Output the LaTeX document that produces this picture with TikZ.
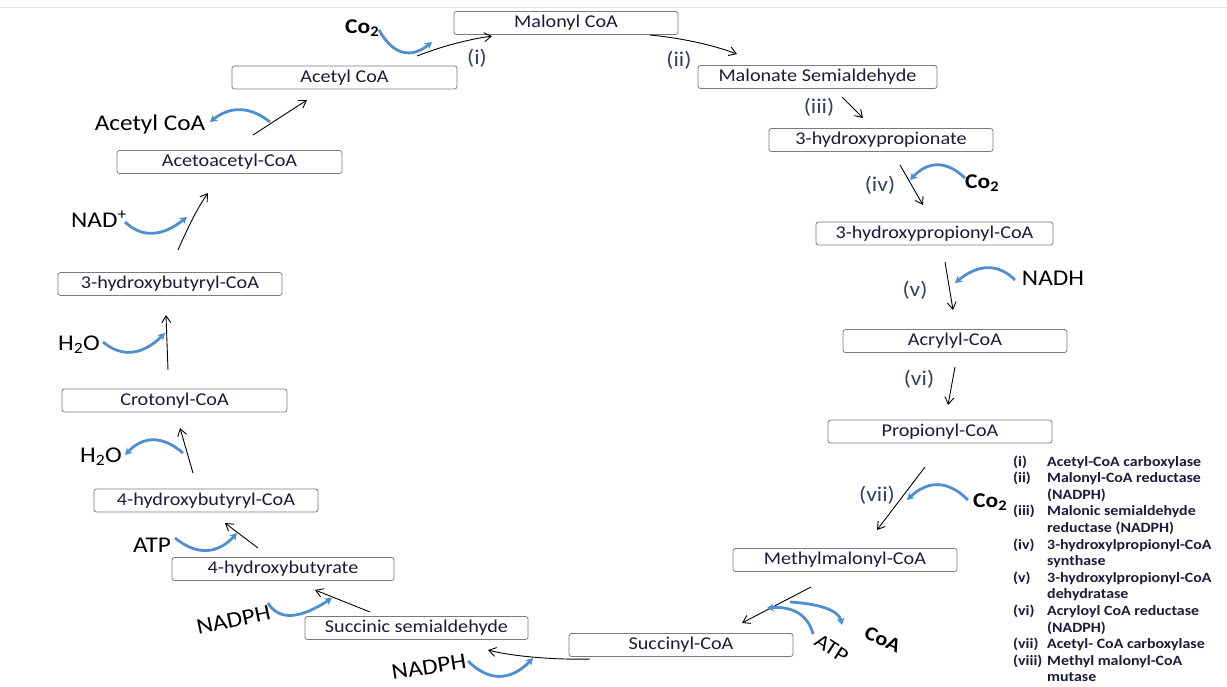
\documentclass[tikz,border=0pt]{standalone}
\usepackage{fontspec}
\setmainfont{Carlito}[FakeStretch=1.12]
\usetikzlibrary{arrows.meta}

\definecolor{ink}{HTML}{1B1B3A}
\definecolor{stepc}{HTML}{34405E}
\definecolor{arcblue}{HTML}{4F8FCF}
\definecolor{boxline}{HTML}{7A7A7A}

\tikzset{
  met/.style={draw=boxline, rounded corners=2.5pt, fill=white, minimum height=23pt,
    inner sep=0pt, text=ink, font=\fontsize{18}{20}\selectfont, line width=0.8pt},
  rxn/.style={draw=black, line width=0.9pt, -{Straight Barb[length=7pt,width=9pt]}},
  cof/.style={draw=arcblue, line width=2.8pt, -{Stealth[length=7pt,width=8pt]}},
  big/.style={font=\fontsize{22.5}{24}\selectfont, text=black, inner sep=0pt},
  stp/.style={font=\fontsize{21}{23}\selectfont, text=stepc, inner sep=0pt},
  cotwo/.style={font=\bfseries\fontsize{21}{23}\selectfont, text=black, inner sep=0pt},
  legend/.style={font=\bfseries\fontsize{14.2}{16}\selectfont, text=ink, inner sep=0pt},
}

\begin{document}
\begin{tikzpicture}[x=1pt,y=-1pt]
\useasboundingbox (0,0) rectangle (1227,686);
\fill[white] (0,0) rectangle (1227,686);
\draw[gray!25, line width=1pt] (0,7) -- (1227,7);

% metabolites of the cycle
\node[met, minimum width=224pt] (malonyl) at (566,23) {Malonyl CoA};
\node[met, minimum width=225pt] (acetyl)  at (344.5,77.5) {Acetyl CoA};
\node[met, minimum width=239pt] (malsemi) at (817.5,77) {Malonate Semialdehyde};
\node[met, minimum width=224pt] (hp)      at (881,140) {3-hydroxypropionate};
\node[met, minimum width=237pt] (hpcoa)   at (934.5,233.5) {3-hydroxypropionyl-CoA};
\node[met, minimum width=224pt] (acryl)   at (955,341) {Acrylyl-CoA};
\node[met, minimum width=224pt] (prop)    at (940,431.5) {Propionyl-CoA};
\node[met, minimum width=224pt] (mmcoa)   at (845,560) {Methylmalonyl-CoA};
\node[met, minimum width=224pt] (succ)    at (681,645) {Succinyl-CoA};
\node[met, minimum width=223pt] (ssa)     at (416.5,628) {Succinic semialdehyde};
\node[met, minimum width=222pt] (hb)      at (283,569) {4-hydroxybutyrate};
\node[met, minimum width=224pt] (hbcoa)   at (206,500.5) {4-hydroxybutyryl-CoA};
\node[met, minimum width=225pt] (crot)    at (174.5,400.5) {Crotonyl-CoA};
\node[met, minimum width=224pt] (hbucoa)  at (170,284) {3-hydroxybutyryl-CoA};
\node[met, minimum width=225pt] (aacoa)   at (229.5,162) {Acetoacetyl-CoA};

% end points of the reaction arrows
\coordinate (r1a) at (417,56);  \coordinate (r1b) at (492,36);
\coordinate (r2a) at (650,35);  \coordinate (r2b) at (737,54);
\coordinate (r3a) at (842,97);  \coordinate (r3b) at (863,118);
\coordinate (r4a) at (900,165); \coordinate (r4b) at (923,205);
\coordinate (r5a) at (945,262); \coordinate (r5b) at (953,310);
\coordinate (r6a) at (955,367); \coordinate (r6b) at (948,405);
\coordinate (r7a) at (925,467); \coordinate (r7b) at (877,530);
\coordinate (r8a) at (811,587); \coordinate (r8b) at (742,623);
\coordinate (r9a) at (590,659); \coordinate (r9b) at (488,650);
\coordinate (r10a) at (370,612); \coordinate (r10b) at (315,590);
\coordinate (r11a) at (258,548); \coordinate (r11b) at (225,523);
\coordinate (r12a) at (193,473); \coordinate (r12b) at (180,428);
\coordinate (r13a) at (168,370); \coordinate (r13b) at (166,315);
\coordinate (r14a) at (178,250); \coordinate (r14b) at (208,193);
\coordinate (r15a) at (253,135); \coordinate (r15b) at (307,100);

% reaction arrows
\draw[rxn] (r1a) .. controls (440,47) and (465,40) .. (r1b);
\draw[rxn] (r2a) .. controls (680,38) and (710,44) .. (r2b);
\draw[rxn] (r3a) -- (r3b);
\draw[rxn] (r4a) -- (r4b);
\draw[rxn] (r5a) -- (r5b);
\draw[rxn] (r6a) -- (r6b);
\draw[rxn] (r7a) -- (r7b);
\draw[rxn] (r8a) -- (r8b);
\draw[rxn] (r9a) .. controls (560,660) and (515,657) .. (r9b);
\draw[rxn] (r10a) -- (r10b);
\draw[rxn] (r11a) -- (r11b);
\draw[rxn] (r12a) -- (r12b);
\draw[rxn] (r13a) -- (r13b);
\draw[rxn] (r14a) .. controls (186,232) and (196,210) .. (r14b);
\draw[rxn] (r15a) -- (r15b);

% cofactors
\node[cotwo, anchor=base west] (co2a) at (345,33) {Co\textsubscript{2}};
\node[cotwo, anchor=base west] (co2b) at (965,188) {Co\textsubscript{2}};
\node[cotwo, anchor=base west] (co2c) at (973,507) {Co\textsubscript{2}};
\node[big, anchor=base] (nadh) at (1053,285) {NADH};
\node[big, anchor=base, rotate=-33, font=\fontsize{21}{23}\selectfont] (atp2) at (828,654) {ATP};
\node[cotwo, anchor=base, rotate=-25, font=\bfseries\fontsize{20}{22}\selectfont] (coa) at (880,645) {CoA};
\node[big, anchor=base, rotate=9] (nadph2) at (430,674) {NADPH};
\node[big, anchor=base, rotate=12] (nadph1) at (235,627) {NADPH};
\node[big, anchor=base] (atp1) at (152,552) {ATP};
\node[big, anchor=base] (h2oa) at (101,462) {H\textsubscript{2}O};
\node[big, anchor=base] (h2ob) at (79,350) {H\textsubscript{2}O};
\node[big, anchor=base] (nadp) at (99,227) {NAD\textsuperscript{+}};
\node[big, anchor=base] (acoa) at (150,130) {Acetyl CoA};

% cofactor arcs
\draw[cof] (379,30) .. controls (393,55) and (411,59) .. (432,42);
\draw[cof] (965,178) .. controls (946,160) and (928,161) .. (910,180);
\draw[cof] (1015,280) .. controls (998,263) and (978,264) .. (955,283);
\draw[cof] (968,500) .. controls (948,480) and (928,480) .. (907,500);
\draw[cof] (813,634) .. controls (808,615) and (793,606) .. (767,608);
\draw[cof] (790,602) .. controls (822,604) and (839,611) .. (842,625);
\draw[cof] (468,661) .. controls (489,682) and (511,681) .. (533,658);
\draw[cof] (268,603) .. controls (279,621) and (300,619) .. (332,598);
\draw[cof] (175,538) .. controls (197,556) and (218,554) .. (237,533);
\draw[cof] (183,453) .. controls (162,435) and (143,436) .. (125,455);
\draw[cof] (103,342) .. controls (122,358) and (143,355) .. (165,333);
\draw[cof] (125,222) .. controls (142,238) and (162,237) .. (187,217);
\draw[cof] (270,122) .. controls (250,106) and (230,106) .. (210,122);

% step numbers
\node[stp] (s1) at (477,58) {(i)};
\node[stp] (s2) at (679,60) {(ii)};
\node[stp] (s3) at (819,107) {(iii)};
\node[stp] (s4) at (880,185) {(iv)};
\node[stp] (s5) at (915,290) {(v)};
\node[stp] (s6) at (919,379) {(vi)};
\node[stp] (s7) at (877,495) {(vii)};

% enzyme key
\foreach \num/\txt [count=\k] in {
  (i)/Acetyl-CoA carboxylase,
  (ii)/Malonyl-CoA reductase,
  /(NADPH),
  (iii)/Malonic semialdehyde,
  /reductase (NADPH),
  (iv)/3-hydroxylpropionyl-CoA,
  /synthase,
  (v)/3-hydroxylpropionyl-CoA,
  /dehydratase,
  (vi)/Acryloyl CoA reductase,
  /(NADPH),
  (vii)/Acetyl- CoA carboxylase,
  (viii)/Methyl malonyl-CoA,
  /mutase}{
  \node[legend, anchor=base west] (keyn\k) at (1013,{466+16.6*(\k-1)}) {\num};
  \node[legend, anchor=base west] (keyt\k) at (1047,{466+16.6*(\k-1)}) {\txt};
}
\end{tikzpicture}
\end{document}
